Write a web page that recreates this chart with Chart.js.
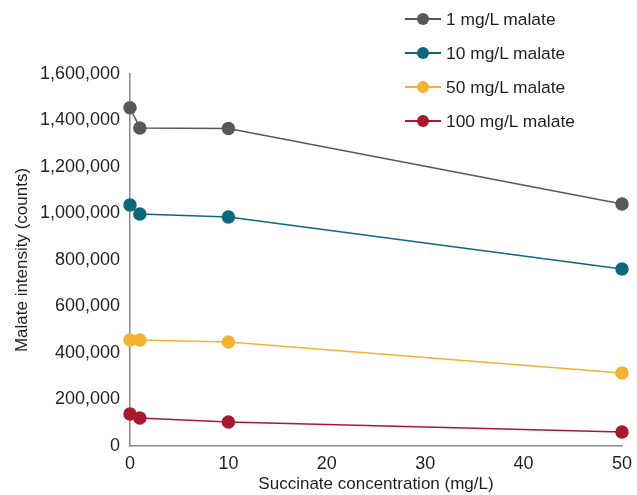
<!DOCTYPE html>
<html>
<head>
<meta charset="utf-8">
<script src="https://cdn.jsdelivr.net/npm/chart.js@4/dist/chart.umd.min.js"></script>
<style>
html,body{margin:0;padding:0;background:#fff;}
#wrap{position:relative;width:637px;height:495px;}
#legend{position:absolute;left:405px;top:5px;font-family:"Liberation Sans",sans-serif;font-size:17.4px;color:#231f20;}
.row{position:absolute;left:0;height:28px;white-space:nowrap;display:flex;align-items:center;}
.sw{position:relative;width:36px;height:28px;margin-right:5px;}
.sw .ln{position:absolute;left:0;right:0;top:13px;height:2px;}
.sw .dt{position:absolute;left:12px;top:8px;width:12px;height:12px;border-radius:50%;}
</style>
</head>
<body>
<div id="wrap">
<canvas id="c" width="637" height="495"></canvas>
<div id="legend"></div>
</div>
<script>
const succinate = [0, 1, 10, 50];
const seriesLabels = ["1 mg/L malate", "10 mg/L malate", "50 mg/L malate", "100 mg/L malate"];
const malate1 = [1455000, 1368000, 1366000, 1041000];
const malate10 = [1037000, 998000, 985000, 761000];
const malate50 = [456000, 456000, 447000, 314000];
const malate100 = [138000, 120000, 103000, 60000];
const colors = ["#58585b", "#0d687d", "#f4b234", "#a8182f"];
const allValues = [malate1, malate10, malate50, malate100];

const FONT = "'Liberation Sans', sans-serif";
const TEXT = "#231f20";

const datasets = allValues.map((vals, i) => ({
  label: seriesLabels[i],
  data: succinate.map((x, j) => ({x: x, y: vals[j]})),
  borderColor: colors[i],
  backgroundColor: colors[i],
  pointBackgroundColor: colors[i],
  pointBorderColor: colors[i],
  pointRadius: 6,
  pointHoverRadius: 6,
  borderWidth: 1.5,
  tension: 0,
  clip: false
}));

new Chart(document.getElementById('c'), {
  type: 'line',
  data: {datasets},
  options: {
    responsive: false,
    animation: false,
    events: [],
    layout: {padding: {left: 12, top: 74, right: 15, bottom: 0}},
    plugins: {legend: {display: false}, tooltip: {enabled: false}},
    scales: {
      x: {
        type: 'linear', min: 0, max: 50,
        ticks: {stepSize: 10, color: TEXT, font: {family: FONT, size: 18}, padding: 1, maxRotation: 0},
        grid: {display: false, drawTicks: true, tickLength: 6, tickColor: '#8a8a8a'},
        border: {display: true, color: '#8a8a8a', width: 1.5},
        title: {display: true, text: 'Succinate concentration (mg/L)', color: TEXT, font: {family: FONT, size: 17}, padding: {top: -4, bottom: 0}},
        afterFit: s => { s.height = 49; }
      },
      y: {
        min: 0, max: 1600000,
        ticks: {stepSize: 200000, color: TEXT, font: {family: FONT, size: 18}, padding: 4,
          callback: v => v.toLocaleString('en-US')},
        grid: {display: false, drawTicks: true, tickLength: 6, tickColor: '#8a8a8a'},
        border: {display: true, color: '#8a8a8a', width: 1.5},
        title: {display: true, text: 'Malate intensity (counts)', color: TEXT, font: {family: FONT, size: 17}, padding: {top: 0, bottom: 4}},
        afterFit: s => { s.width = 118; }
      }
    }
  }
});

const lg = document.getElementById('legend');
seriesLabels.forEach((lab, i) => {
  const r = document.createElement('div');
  r.className = 'row';
  r.style.top = (i * 34) + 'px';
  r.innerHTML = '<div class="sw"><div class="ln" style="background:' + colors[i] + '"></div><div class="dt" style="background:' + colors[i] + '"></div></div><span></span>';
  r.querySelector('span').textContent = lab;
  lg.appendChild(r);
});
</script>
</body>
</html>
